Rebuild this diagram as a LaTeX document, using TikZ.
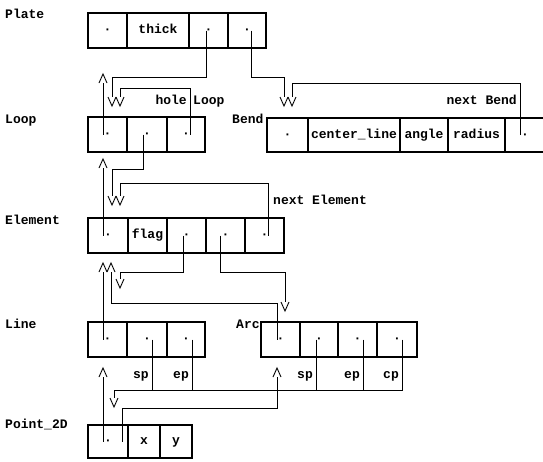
\documentclass[tikz,border=0pt]{standalone}
\usepackage{fontspec}
\setmonofont{Liberation Mono}
\newcommand\dfont{\fontsize{13pt}{15pt}\selectfont\ttfamily\bfseries}
\tikzset{
  cell/.style={draw, line width=1.4pt, minimum height=35pt, inner sep=0pt, outer sep=0pt,
    text height=8pt, text depth=2pt, anchor=north west, font=\dfont},
  ptr/.style={line width=0.9pt},
  lbl/.style={font=\dfont, inner sep=0pt},
  vdn/.pic={\draw[ptr] (-4,-9) -- (0,0) -- (4,-9);},
  vup/.pic={\draw[ptr] (-4,9) -- (0,0) -- (4,9);},
}
\begin{document}
\begin{tikzpicture}[x=1pt,y=-1pt]
\useasboundingbox (0,0) rectangle (543,461);
\fill[white] (0,0) rectangle (543,461);

% ---- type labels
\node[lbl, anchor=base west] (tPlate) at (5,18) {Plate};
\node[lbl, anchor=base west] (tLoop) at (5,123) {Loop};
\node[lbl, anchor=base west] (tBend) at (232,123) {Bend};
\node[lbl, anchor=base west] (tElement) at (5,224) {Element};
\node[lbl, anchor=base west] (tLine) at (5,328) {Line};
\node[lbl, anchor=base west] (tArc) at (236,328) {Arc};
\node[lbl, anchor=base west] (tPoint) at (5,428) {Point\_2D};

% ---- Plate
\node[cell, minimum width=39pt] (pl1) at (88,13) {·};
\node[cell, minimum width=62pt] (pl2) at (127,13) {thick};
\node[cell, minimum width=39pt] (pl3) at (189,13) {·};
\node[cell, minimum width=38pt] (pl4) at (228,13) {·};

% ---- Loop
\node[cell, minimum width=39pt] (lo1) at (88,117) {·};
\node[cell, minimum width=40pt] (lo2) at (127,117) {·};
\node[cell, minimum width=38pt] (lo3) at (167,117) {·};

% ---- Bend (runs off the right edge)
\node[cell, minimum width=41pt, minimum height=34pt] (be1) at (267,118) {·};
\node[cell, minimum width=92pt, minimum height=34pt] (be2) at (308,118) {center\_line};
\node[cell, minimum width=48pt, minimum height=34pt] (be3) at (400,118) {angle};
\node[cell, minimum width=57pt, minimum height=34pt] (be4) at (448,118) {radius};
\node[cell, draw=none, minimum width=40pt, minimum height=34pt] (be5) at (505,118) {·};
\draw[line width=1.4pt] (be5.north east) -- (be5.north west) -- (be5.south west) -- (be5.south east);

% ---- Element
\node[cell, minimum width=40pt] (el1) at (88,218) {·};
\node[cell, minimum width=39pt] (el2) at (128,218) {flag};
\node[cell, minimum width=39pt] (el3) at (167,218) {·};
\node[cell, minimum width=39pt] (el4) at (206,218) {·};
\node[cell, minimum width=39pt] (el5) at (245,218) {·};

% ---- Line
\node[cell, minimum width=39pt] (li1) at (88,322) {·};
\node[cell, minimum width=40pt] (li2) at (127,322) {·};
\node[cell, minimum width=38pt] (li3) at (167,322) {·};

% ---- Arc
\node[cell, minimum width=39pt] (ar1) at (261,322) {·};
\node[cell, minimum width=38pt] (ar2) at (300,322) {·};
\node[cell, minimum width=39pt] (ar3) at (338,322) {·};
\node[cell, minimum width=40pt] (ar4) at (377,322) {·};

% ---- Point_2D
\node[cell, minimum width=40pt, minimum height=33pt] (po1) at (88,425) {·};
\node[cell, minimum width=32pt, minimum height=33pt] (po2) at (128,425) {x};
\node[cell, minimum width=32pt, minimum height=33pt] (po3) at (160,425) {y};

% ---- field labels
\node[lbl, anchor=base east] (fHole) at (187,104) {hole};
\node[lbl, anchor=base west] (fHoleT) at (193,104) {Loop};
\node[lbl, anchor=base east] (fNextB) at (517,104) {next Bend};
\node[lbl, anchor=base west] (fNextE) at (273,204) {next Element};
\node[lbl, anchor=base east] (fLsp) at (149,378) {sp};
\node[lbl, anchor=base east] (fLep) at (189,378) {ep};
\node[lbl, anchor=base east] (fAsp) at (313,378) {sp};
\node[lbl, anchor=base east] (fAep) at (360,378) {ep};
\node[lbl, anchor=base east] (fAcp) at (399,378) {cp};

% ---- connector free ends (mouth of each V / inverted V)
\coordinate (tLoopA) at (112,97);
\coordinate (tLoopB) at (120,97);
\coordinate (tBendA) at (284,97);
\coordinate (tBendB) at (292,97);
\coordinate (tElemA) at (112,196);
\coordinate (tElemB) at (120,196);
\coordinate (tLineD) at (120,279);
\coordinate (tArcD) at (285,302);
\coordinate (tPointD) at (114,398);
\coordinate (tPlateUp) at (103,83);
\coordinate (tLoopUp) at (103,168);
\coordinate (tElUpA) at (103,272);
\coordinate (tElUpB) at (111,272);
\coordinate (tLineUp) at (103,377);
\coordinate (tArcUp) at (277,377);

% ---- heads
\foreach \c in {tLoopA,tLoopB,tBendA,tBendB,tElemA,tElemB,tLineD,tArcD,tPointD}
  \pic at ([yshift=-9pt]\c) {vdn};
\foreach \c in {tPlateUp,tLoopUp,tElUpA,tElUpB,tLineUp,tArcUp}
  \pic at ([yshift=9pt]\c) {vup};

% ---- Plate -> Loop / Bend
\draw[ptr] ([xshift=-2.5pt]pl3.center) |- (112,77) -- (tLoopA);
\draw[ptr] ([xshift=4pt]pl4.center) |- (284,77) -- (tBendA);
\draw[ptr] ([xshift=-4.5pt]lo1.center) -- (tPlateUp);
\draw[ptr] ([xshift=4pt]lo3.center) |- (120,88) -- (tLoopB);
\draw[ptr] ([xshift=-5pt]be5.center) |- (292,83) -- (tBendB);

% ---- Loop -> Element
\draw[ptr] ([xshift=-4pt]lo2.center) |- (112,169) -- (tElemA);
\draw[ptr] ([xshift=3.5pt]el5.center) |- (120,183) -- (tElemB);
\draw[ptr] ([xshift=-5pt]el1.center) -- (tLoopUp);

% ---- Element -> Line / Arc
\draw[ptr] ([xshift=-3.5pt]el3.center) |- (120,272) -- (tLineD);
\draw[ptr] ([xshift=-5.5pt]el4.center) |- (285,272) -- (tArcD);
\draw[ptr] ([xshift=-4.5pt]li1.center) -- (tElUpA);
\draw[ptr] ([xshift=-3.5pt]ar1.center) |- (111,303) -- (tElUpB);

% ---- Line / Arc -> Point_2D
\draw[ptr] ([xshift=5pt]ar4.center) |- (114,390) -- (tPointD);
\draw[ptr] ([xshift=5.5pt]ar3.center) -- ++(0,50.5);
\draw[ptr] ([xshift=-3pt]ar2.center) -- ++(0,50.5);
\draw[ptr] ([xshift=5pt]li2.center) -- ++(0,50.5);
\draw[ptr] ([xshift=6pt]li3.center) -- ++(0,50.5);
\draw[ptr] ([xshift=-5pt]po1.center) -- (tLineUp);
\draw[ptr] ([xshift=14pt]po1.center) |- (277,408) -- (tArcUp);
\end{tikzpicture}
\end{document}
